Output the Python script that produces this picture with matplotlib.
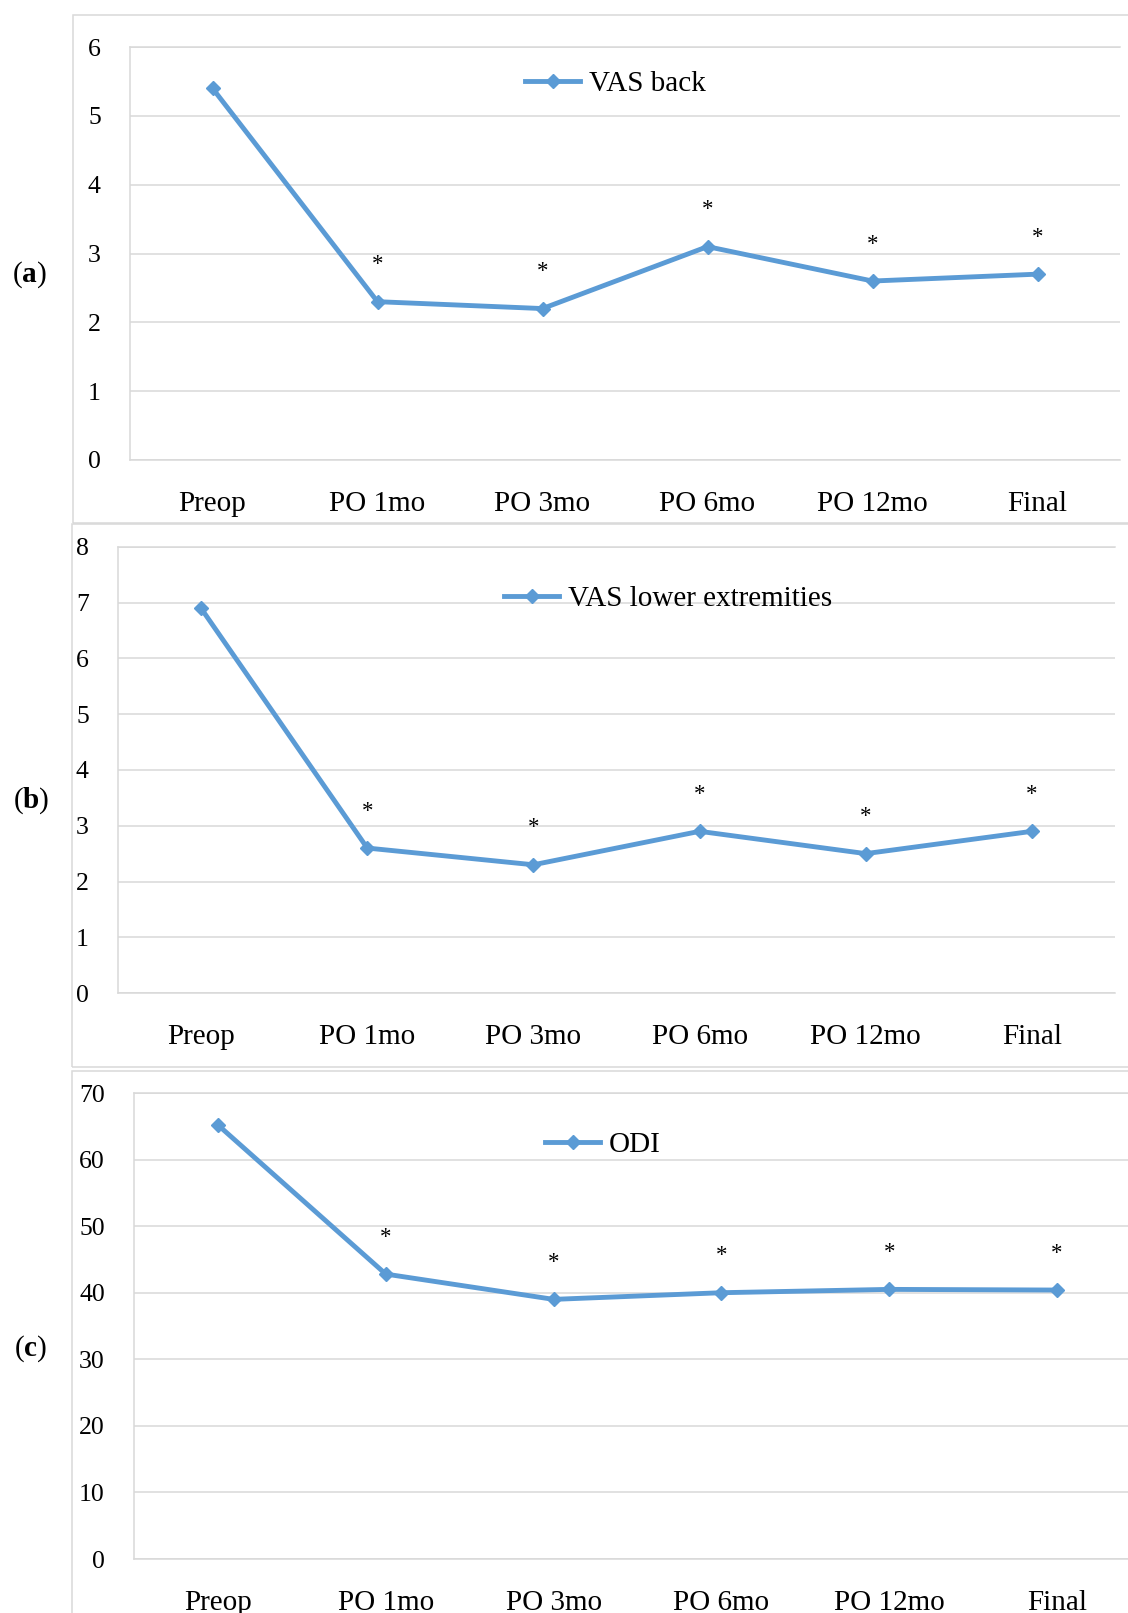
import numpy as np
import matplotlib
matplotlib.use('Agg')
import matplotlib.pyplot as plt
from matplotlib.patches import Rectangle

timepoints = ['Preop', 'PO 1mo', 'PO 3mo', 'PO 6mo', 'PO 12mo', 'Final']
vas_back = [5.4, 2.3, 2.2, 3.1, 2.6, 2.7]
vas_lower = [6.9, 2.6, 2.3, 2.9, 2.5, 2.9]
odi = [65.2, 42.8, 39.0, 40.0, 40.5, 40.4]
significant = [False, True, True, True, True, True]

series_names = ['VAS back', 'VAS lower extremities', 'ODI']
y_max = [6, 8, 70]
y_step = [1, 1, 10]
panel_labels = ['a', 'b', 'c']

BLUE = '#5b9bd5'
GRID = '#d9d9d9'
W, H = 1128, 1613

plt.rcParams['font.family'] = ['Liberation Serif', 'DejaVu Serif']
plt.rcParams['mathtext.fontset'] = 'custom'
plt.rcParams['mathtext.bf'] = 'Liberation Serif:bold'
plt.rcParams['mathtext.rm'] = 'Liberation Serif'


def px_box(left, right, top, bottom):
    return [left / W, 1 - bottom / H, (right - left) / W, (bottom - top) / H]


def draw_panel(fig, box, values, name, ymax, step, legend_xy):
    ax = fig.add_axes(box)
    x = np.arange(len(timepoints))
    ax.plot(x, values, color=BLUE, lw=3.5, marker='D', ms=7.5,
            label=name, zorder=3, clip_on=False)
    for xi, v, sig in zip(x, values, significant):
        if sig:
            ax.annotate('*', (xi, v), xytext=(0, 26.5), textcoords='offset points',
                        ha='center', va='center', fontsize=16.5)

    ax.set_xlim(-0.5, len(x) - 0.5)
    ax.set_ylim(0, ymax)
    ax.set_yticks(np.arange(0, ymax + step, step))
    ax.set_xticks(x)
    ax.set_xticklabels(timepoints)
    ax.tick_params(axis='y', length=0, pad=21, labelsize=18.5)
    ax.tick_params(axis='x', length=0, pad=22.5, labelsize=21)
    ax.grid(axis='y', color=GRID, lw=1.1)
    ax.set_axisbelow(True)
    ax.spines['right'].set_visible(False)
    for s in ['left', 'top', 'bottom']:
        ax.spines[s].set_color(GRID)
        ax.spines[s].set_linewidth(1.1)

    ax.legend(loc='center left', bbox_to_anchor=legend_xy, frameon=False,
              fontsize=21, handlelength=1.9, handletextpad=0.3,
              borderpad=0, borderaxespad=0)
    return ax


fig = plt.figure(figsize=(W / 100, H / 100), dpi=100)

# outer chart frames (pixels: left, top, bottom)
frames = [(73, 15, 523), (72, 524, 1067), (72, 1071, 1700)]
for left, top, bottom in frames:
    fig.patches.append(Rectangle((left / W, 1 - bottom / H), 1.2, (bottom - top) / H,
                                 transform=fig.transFigure, fill=False,
                                 ec=GRID, lw=1.1))

boxes = [px_box(130, 1120, 47, 460),
         px_box(118, 1115, 547, 993),
         px_box(134, 1141, 1093, 1559)]
legend_pos = [(0.399, 0.910), (0.387, 0.883), (0.408, 0.889)]
label_pos = [(29, 275), (31, 801), (31, 1349)]
all_values = [vas_back, vas_lower, odi]

for i in range(3):
    draw_panel(fig, boxes[i], all_values[i], series_names[i], y_max[i], y_step[i],
               legend_pos[i])
    lx, ly = label_pos[i]
    fig.text(lx / W, 1 - ly / H, r'($\mathbf{%s}$)' % panel_labels[i],
             ha='center', va='center', fontsize=21)

fig.savefig('out.png', dpi=100)
